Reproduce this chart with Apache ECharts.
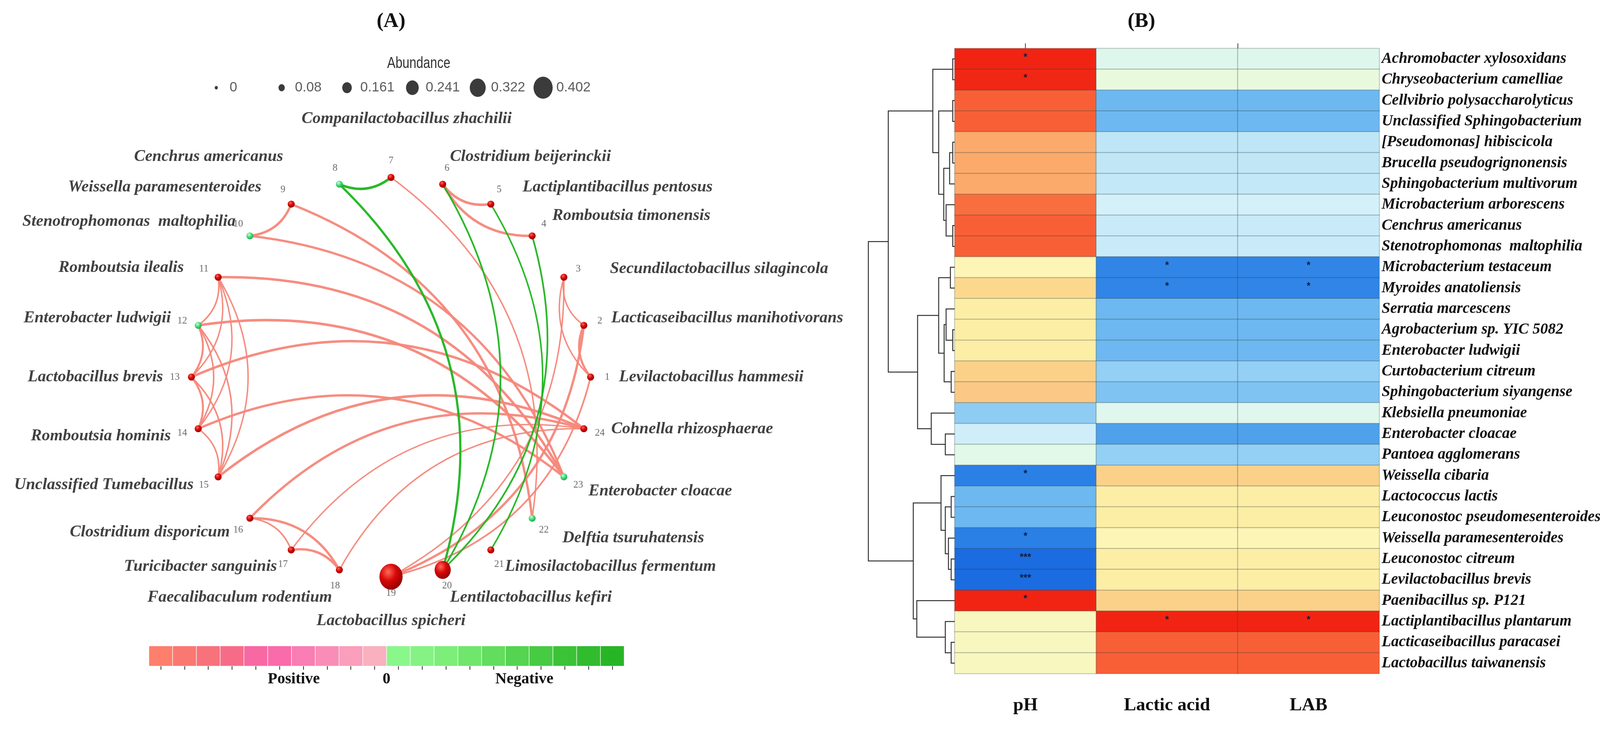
<!DOCTYPE html>
<html><head><meta charset="utf-8">
<script src="https://cdn.jsdelivr.net/npm/echarts@6/dist/echarts.min.js"></script>
<style>html,body{margin:0;padding:0;background:#fff}#c{width:4352px;height:1917px}</style>
</head><body><div id="c"></div>
<script>
// ---------------- DATA ----------------
const nodeNames = [
  'Levilactobacillus hammesii','Lacticaseibacillus manihotivorans','Secundilactobacillus silagincola',
  'Romboutsia timonensis','Lactiplantibacillus pentosus','Clostridium beijerinckii',
  'Companilactobacillus zhachilii','Cenchrus americanus','Weissella paramesenteroides',
  'Stenotrophomonas  maltophilia','Romboutsia ilealis','Enterobacter ludwigii',
  'Lactobacillus brevis','Romboutsia hominis','Unclassified Tumebacillus',
  'Clostridium disporicum','Turicibacter sanguinis','Faecalibaculum rodentium',
  'Lactobacillus spicheri','Lentilactobacillus kefiri','Limosilactobacillus fermentum',
  'Delftia tsuruhatensis','Enterobacter cloacae','Cohnella rhizosphaerae'
];
// 0 = red node, 1 = green node
const nodeGroup = [0,0,0,0,0,0,0,1,0,1,0,1,0,0,0,0,0,0,0,0,0,1,1,0];
const nodeAbundance = [0.01,0.01,0.01,0.01,0.01,0.01,0.01,0.008,0.01,0.008,0.01,0.008,0.01,0.01,0.01,0.01,0.01,0.01,0.40,0.23,0.01,0.008,0.008,0.01];
// [node a, node b, correlation]
const edgeList = [
  [5,6,0.9],[4,6,0.9],[7,22,0.7],[9,10,0.88],[9,22,0.88],[10,23,0.85],[11,23,0.9],
  [12,23,0.9],[14,23,0.88],[13,24,0.9],[15,24,0.9],[16,24,0.88],[17,24,0.7],[18,24,0.7],
  [1,19,0.75],[2,19,0.88],[3,19,0.7],[1,2,0.85],[1,3,0.7],[2,3,0.7],
  [11,12,0.72],[11,13,0.7],[11,14,0.7],[11,15,0.7],[12,13,0.8],[12,14,0.72],[12,15,0.72],
  [13,14,0.8],[13,15,0.72],[14,15,0.72],[16,17,0.72],[16,18,0.88],[17,18,0.88],
  [7,8,-0.9],[8,20,-0.85],[6,20,-0.75],[4,20,-0.75],[5,21,-0.72]
];
const abundanceTicks = [0, 0.08, 0.161, 0.241, 0.322, 0.402];
const abundanceTickLabels = ['0','0.08','0.161','0.241','0.322','0.402'];
const colorbarLevels = [1,0.9,0.8,0.7,0.6,0.5,0.4,0.3,0.2,0.1,-0.1,-0.2,-0.3,-0.4,-0.5,-0.6,-0.7,-0.8,-0.9,-1];
const colorbarTickText = {'6.1': 'Positive', '10': '0', '15.8': 'Negative'};

const heatRows = [
  'Achromobacter xylosoxidans','Chryseobacterium camelliae','Cellvibrio polysaccharolyticus',
  'Unclassified Sphingobacterium','[Pseudomonas] hibiscicola','Brucella pseudogrignonensis',
  'Sphingobacterium multivorum','Microbacterium arborescens','Cenchrus americanus',
  'Stenotrophomonas  maltophilia','Microbacterium testaceum','Myroides anatoliensis',
  'Serratia marcescens','Agrobacterium sp. YIC 5082','Enterobacter ludwigii',
  'Curtobacterium citreum','Sphingobacterium siyangense','Klebsiella pneumoniae',
  'Enterobacter cloacae','Pantoea agglomerans','Weissella cibaria','Lactococcus lactis',
  'Leuconostoc pseudomesenteroides','Weissella paramesenteroides','Leuconostoc citreum',
  'Levilactobacillus brevis','Paenibacillus sp. P121','Lactiplantibacillus plantarum',
  'Lacticaseibacillus paracasei','Lactobacillus taiwanensis'
];
const heatCols = ['pH','Lactic acid','LAB'];
const phValues = [0.97,0.96,0.8,0.8,0.6,0.6,0.6,0.76,0.8,0.8,0.2,0.4,0.3,0.3,0.3,0.45,0.5,-0.47,-0.22,-0.02,-0.85,-0.6,-0.6,-0.85,-0.95,-0.95,0.97,0.16,0.16,0.16];
const lacticValues = [-0.07,0.04,-0.6,-0.6,-0.3,-0.29,-0.28,-0.19,-0.25,-0.25,-0.82,-0.82,-0.6,-0.6,-0.6,-0.45,-0.53,-0.06,-0.7,-0.45,0.45,0.3,0.3,0.2,0.3,0.3,0.45,0.97,0.8,0.8];
const labValues = [-0.07,0.04,-0.6,-0.6,-0.3,-0.29,-0.28,-0.19,-0.25,-0.25,-0.82,-0.82,-0.6,-0.6,-0.6,-0.45,-0.53,-0.06,-0.7,-0.45,0.45,0.3,0.3,0.2,0.3,0.3,0.45,0.97,0.8,0.8];
const phSig = ['*','*','','','','','','','','','','','','','','','','','','','*','','','*','***','***','*','','',''];
const lacticSig = ['','','','','','','','','','','*','*','','','','','','','','','','','','','','','','*','',''];
const labSig = ['','','','','','','','','','','*','*','','','','','','','','','','','','','','','','*','',''];
// row dendrogram merges: [childA, childB, height]; numbers are rows (0-based), 'cK' is merge K
const dendroMerges = [
  [0,1,5],[2,3,5],[4,5,5],['c2',6,13],[8,9,5],[7,'c4',22],['c3','c5',28],
  ['c1','c6',41],['c0','c7',56],
  [10,11,11],[13,14,5],[12,'c10',22],[15,16,9],['c11','c12',27],['c9','c13',41],
  [18,19,24],[17,'c15',60],['c14','c16',95],['c8','c17',170],
  [21,22,9],[24,25,9],[23,'c20',16],['c19','c21',24],[20,'c22',35],
  [28,29,9],[27,'c24',24],[26,'c25',97],['c23','c26',106],
  ['c18','c27',221]
];

// ---------------- STYLE / LAYOUT ----------------
const CX = 1001, CY = 965, R = 511;
const SERIF = 'Liberation Serif';
const SANS = 'Liberation Sans';
const heatPalette = ['#1460DC','#2277E3','#3489E8','#4FA1EC','#6DB8F1','#86C7F3','#A2D6F6','#BFE6F7','#D3F0FA','#DCF6F0','#E3F8E6','#F3FAD0','#FDF5B5','#FDEEA6','#FBD88E','#FBC985','#FBAA6B','#F98549','#F95F36','#F33A20','#F01A0E'];
const barPalette = ['#FE7F6C','#FA7872','#F8727B','#F66C88','#F868A3','#F96BAA','#F97DB2','#FA8DB7','#FA9EBB','#F9B0BF','#8AF78A','#84F383','#7CEE79','#70E66D','#62DD5E','#54D450','#47CB43','#3BC337','#30BC2D','#27B526'];
const redBall = {type:'radial',x:0.38,y:0.32,r:0.75,colorStops:[{offset:0,color:'#FF6A5A'},{offset:0.45,color:'#D80808'},{offset:1,color:'#8C0000'}]};
const greenBall = {type:'radial',x:0.38,y:0.32,r:0.75,colorStops:[{offset:0,color:'#C8FFD8'},{offset:0.5,color:'#45D876'},{offset:1,color:'#1E9E4A'}]};
// small pixel nudges for a few species labels (1-based node number -> [dx, dy])
const labelNudge = {3:[55,15], 5:[45,20], 7:[40,0], 8:[-125,0], 9:[-40,20], 10:[15,15], 11:[-25,12],
  15:[0,-16], 16:[0,-15], 17:[0,-20], 21:[0,-20], 22:[26,0], 24:[0,-18]};

const step = 360 / nodeNames.length;
const nodeSize = a => { const w = 17 + 106 * a; return a > 0.1 ? [w, w * 1.12] : w; };
const graphNodes = nodeNames.map((n, i) => ({
  name: String(i + 1),
  value: [1, i * step],
  symbolSize: nodeSize(nodeAbundance[i]),
  itemStyle: {color: nodeGroup[i] ? greenBall : redBall}
}));
const graphLinks = edgeList.map(([a, b, r]) => ({
  source: String(Math.min(a, b)),
  target: String(Math.max(a, b)),
  lineStyle: {color: r > 0 ? '#F5877A' : '#1DB51D', width: 2.4 + 13 * (Math.abs(r) - 0.6), opacity: 0.95}
}));

function labelAlign(i) {
  const c = Math.cos(i * step * Math.PI / 180);
  return c > 0.15 ? 'left' : (c < -0.15 ? 'right' : 'center');
}
function labelRadius(i) {
  const s = Math.sin(i * step * Math.PI / 180);
  if (Math.abs(Math.cos(i * step * Math.PI / 180)) < 0.15) return s > 0 ? 1.293 : 1.221;
  return 1.142;
}
const speciesLabelData = nodeNames.map((n, i) => ({
  value: [labelRadius(i), i * step],
  label: {show: true, formatter: n, position: 'inside', align: labelAlign(i), verticalAlign: 'middle',
    offset: labelNudge[i + 1] || [0, 0],
    fontFamily: SERIF, fontStyle: 'italic', fontWeight: 'bold', fontSize: 42, color: '#111'}
}));
const numberLabelData = nodeNames.map((n, i) => ({
  value: [1.083, i * step],
  label: {show: true, formatter: String(i + 1), position: 'inside', align: 'center', verticalAlign: 'middle',
    fontFamily: SERIF, fontSize: 25, color: '#444'}
}));

const heatData = [];
heatRows.forEach((r, i) => {
  heatData.push([0, i, phValues[i], phSig[i]]);
  heatData.push([1, i, lacticValues[i], lacticSig[i]]);
  heatData.push([2, i, labValues[i], labSig[i]]);
});

function buildDendro(merges, nLeaves) {
  const pos = [];
  for (let i = 0; i < nLeaves; i++) pos.push([0, i + 0.5]);
  const ref = k => typeof k === 'number' ? k : nLeaves + parseInt(k.slice(1), 10);
  const segs = [];
  merges.forEach(([a, b, h]) => {
    const pa = pos[ref(a)], pb = pos[ref(b)];
    segs.push([[pa[0], pa[1]], [h, pa[1]], [h, pb[1]], [pb[0], pb[1]]]);
    pos.push([h, (pa[1] + pb[1]) / 2]);
  });
  return segs;
}
const dendroSegs = buildDendro(dendroMerges, heatRows.length);
const dendroMax = dendroMerges[dendroMerges.length - 1][2];

const chart = echarts.init(document.getElementById('c'), null, {width: 4352, height: 1917});
const hidden = {show: false};
const option = {
  animation: false,
  backgroundColor: '#ffffff',
  graphic: [
    {type: 'text', x: 1001, y: 55, style: {text: '(A)', font: 'bold 53px "Liberation Serif"', fill: '#111', textAlign: 'center', textVerticalAlign: 'middle'}},
    {type: 'text', x: 2922, y: 55, style: {text: '(B)', font: 'bold 53px "Liberation Serif"', fill: '#111', textAlign: 'center', textVerticalAlign: 'middle'}},
    {type: 'text', x: 1072, y: 163, scaleX: 0.8, style: {text: 'Abundance', font: '40px "Liberation Sans"', fill: '#333', textAlign: 'center', textVerticalAlign: 'middle'}}
  ],
  polar: {center: [CX, CY], radius: R * 1.3},
  angleAxis: {type: 'value', min: 0, max: 360, startAngle: 0, clockwise: false, show: false},
  radiusAxis: {type: 'value', min: 0, max: 1.3, show: false},
  grid: [
    {left: 470, top: 198, width: 1004, height: 53},
    {left: 381, top: 1653, width: 1217, height: 52},
    {left: 2444, top: 124, width: 1087, height: 1600},
    {left: 2444 - dendroMax, top: 124, width: dendroMax, height: 1600}
  ],
  xAxis: [
    {gridIndex: 0, type: 'category', data: abundanceTickLabels, show: false},
    {gridIndex: 1, type: 'category', data: colorbarLevels.map(String), position: 'bottom',
      axisLine: hidden, splitLine: hidden, axisLabel: hidden,
      axisTick: {show: true, alignWithLabel: true, interval: 0, length: 9, lineStyle: {color: '#333', width: 2}}},
    {gridIndex: 1, type: 'value', min: 0, max: 20, position: 'bottom', axisLine: hidden, axisTick: hidden, splitLine: hidden,
      axisLabel: {customValues: [6.1, 10, 15.8], formatter: v => colorbarTickText[String(v)] || '', margin: 14,
        fontFamily: SERIF, fontWeight: 'bold', fontSize: 40, color: '#111'}},
    {gridIndex: 2, type: 'category', data: heatCols, position: 'bottom', axisLine: hidden, axisTick: hidden, splitLine: hidden,
      axisLabel: {margin: 58, fontFamily: SERIF, fontWeight: 'bold', fontSize: 47, color: '#111'}},
    {gridIndex: 2, type: 'value', min: 0, max: 3, position: 'top', axisLine: hidden, splitLine: hidden, axisLabel: hidden,
      axisTick: {show: true, customValues: [0.5, 2], length: 13, lineStyle: {color: '#444', width: 2}}},
    {gridIndex: 3, type: 'value', min: 0, max: dendroMax, inverse: true, show: false}
  ],
  yAxis: [
    {gridIndex: 0, type: 'value', min: -1, max: 1, show: false},
    {gridIndex: 1, type: 'value', min: 0, max: 1, show: false},
    {gridIndex: 2, type: 'category', data: heatRows, inverse: true, position: 'right', axisLine: hidden, axisTick: hidden, splitLine: hidden,
      axisLabel: {margin: 6, fontFamily: SERIF, fontStyle: 'italic', fontWeight: 'bold', fontSize: 39.5, color: '#111'}},
    {gridIndex: 3, type: 'value', min: 0, max: 30, inverse: true, show: false}
  ],
  visualMap: {type: 'continuous', show: false, min: -1, max: 1, dimension: 2, seriesIndex: 5, inRange: {color: heatPalette}},
  series: [
    {type: 'graph', coordinateSystem: 'polar', polarIndex: 0, layout: 'none', silent: true, z: 3,
      symbol: 'circle', data: graphNodes, links: graphLinks, label: {show: false},
      lineStyle: {curveness: 0.3}, emphasis: {disabled: true}},
    {type: 'scatter', coordinateSystem: 'polar', symbolSize: 1, silent: true, z: 4,
      itemStyle: {color: 'rgba(0,0,0,0)'}, data: speciesLabelData},
    {type: 'scatter', coordinateSystem: 'polar', symbolSize: 1, silent: true, z: 4,
      itemStyle: {color: 'rgba(0,0,0,0)'}, data: numberLabelData},
    {type: 'scatter', xAxisIndex: 0, yAxisIndex: 0, silent: true,
      data: abundanceTicks.map((v, i) => ({value: [i, 0], symbolSize: [8 + 102 * v, (8 + 102 * v) * 1.15]})),
      itemStyle: {color: '#0a0a0a'},
      label: {show: true, position: 'inside', align: 'left', offset: [34, 0],
        formatter: p => abundanceTickLabels[p.dataIndex], fontFamily: SANS, fontSize: 35, color: '#333'}},
    {type: 'bar', xAxisIndex: 1, yAxisIndex: 1, silent: true, barWidth: '100%', barCategoryGap: 0,
      data: colorbarLevels.map((v, i) => ({value: 1, itemStyle: {color: barPalette[i], borderColor: 'rgba(255,255,255,0.4)', borderWidth: 1}}))},
    {type: 'heatmap', xAxisIndex: 3, yAxisIndex: 2, silent: true, data: heatData,
      itemStyle: {borderColor: 'rgba(40,60,60,0.25)', borderWidth: 2.5},
      label: {show: true, formatter: p => p.data[3], offset: [0, -4], fontSize: 25, fontWeight: 'bold', color: '#102040'},
      emphasis: {disabled: true}},
    {type: 'lines', coordinateSystem: 'cartesian2d', xAxisIndex: 5, yAxisIndex: 3, polyline: true, silent: true,
      lineStyle: {color: '#333', width: 2.5, opacity: 1},
      data: dendroSegs.map(c => ({coords: c}))}
  ]
};
chart.setOption(option);
</script>
</body></html>
